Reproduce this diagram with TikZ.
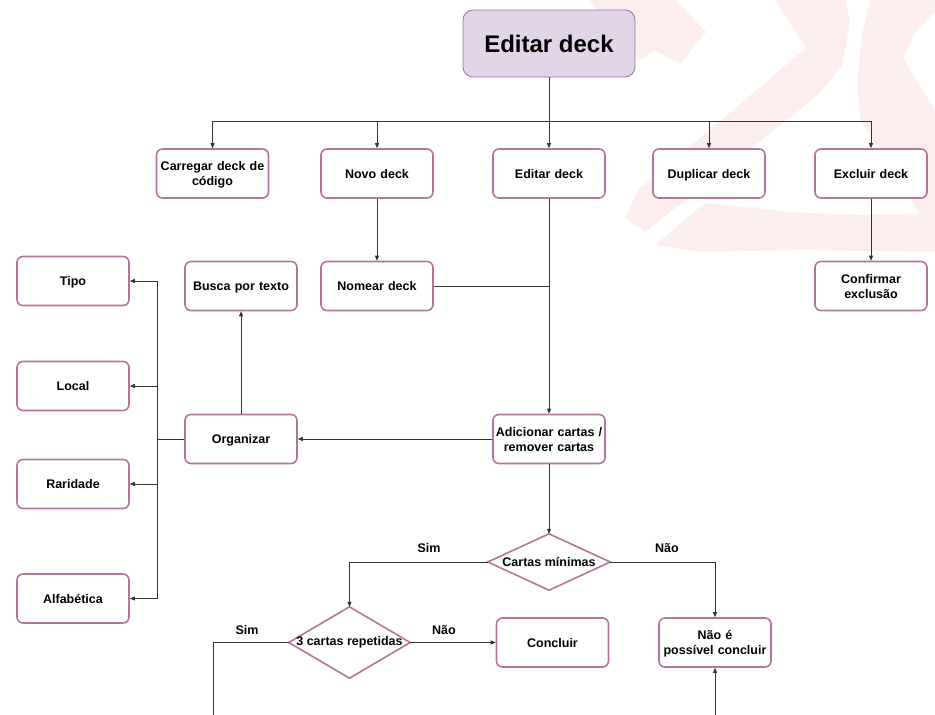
\documentclass[tikz,border=0pt]{standalone}
\usepackage{fontspec}
\setmainfont{Liberation Sans}
\usetikzlibrary{arrows.meta,calc}
\definecolor{boxline}{HTML}{B5739D}
\definecolor{titlefill}{HTML}{E1D5E7}
\definecolor{titleline}{HTML}{9673A6}
\definecolor{wmpink}{HTML}{FDEEEE}
\definecolor{wire}{HTML}{333333}
% strut balanced around the cap height, so box text sits in the middle
\newcommand\capstrut{\rule[-3pt]{0pt}{15pt}}
\begin{document}
\begin{tikzpicture}[x=1pt,y=-1pt,
  card/.style={draw=boxline, line width=1.6pt, rounded corners=6pt, fill=white,
    minimum width=112pt, minimum height=49pt, inner sep=2pt, align=center,
    text width=108pt, font=\fontsize{12.5}{15}\selectfont\bfseries,
    execute at begin node=\capstrut, execute at end node=\capstrut},
  titlebox/.style={draw=titleline, line width=0.8pt, rounded corners=10pt, fill=titlefill,
    minimum width=172pt, minimum height=67pt, inner sep=2pt,
    font=\fontsize{24}{28}\selectfont\bfseries},
  dia/.style={rectangle, inner sep=0pt, font=\fontsize{12.5}{14}\selectfont\bfseries},
  diaedge/.style={draw=boxline, line width=1.6pt, fill=white, line join=miter},
  lbl/.style={inner sep=1pt, font=\fontsize{12.5}{14}\selectfont\bfseries},
  plain/.style={draw=wire, line width=0.8pt},
  flow/.style={plain, -{Triangle[length=5pt,width=4pt]}}]

% page
\useasboundingbox (0,0) rectangle (935,715);
\fill[white] (0,0) rectangle (935,715);

% faint backdrop emblem
\begin{scope}[fill=wmpink]
  \fill (588,0) -- (676,0) -- (706,32) -- (680,64) -- (655,50) -- (640,60) -- cycle;
  \fill (775,0) -- (846,0) -- (850,22) -- (842,66) -- (818,95) -- (705,185) -- (645,232)
        -- (625,218) -- (638,190) -- (745,100) -- (806,48) -- cycle;
  \fill (870,0) -- (935,0) -- (935,12) -- (914,34) -- (903,58) -- (935,110) -- (935,235)
        -- (898,182) -- (860,118) -- (857,86) -- (862,35) -- cycle;
  \fill (655,245) -- (705,203) -- (790,212) -- (860,215) -- (935,213) -- (935,252)
        -- (800,250) -- (700,252) -- cycle;
\end{scope}

% nodes
\node[titlebox] (top) at (549,43.5) {Editar deck};
\node[card] (load) at (212.5,173.5) {Carregar deck de\\código};
\node[card] (new) at (377,173.5) {Novo deck};
\node[card] (edit) at (549,173.5) {Editar deck};
\node[card] (dup) at (709,173.5) {Duplicar deck};
\node[card] (del) at (871,173.5) {Excluir deck};
\node[card] (search) at (241,286) {Busca por texto};
\node[card] (name) at (377,286) {Nomear deck};
\node[card] (confirm) at (871,286) {Confirmar\\exclusão};
\node[card] (tipo) at (73,281) {Tipo};
\node[card] (local) at (73,386) {Local};
\node[card] (rar) at (73,484) {Raridade};
\node[card] (alfa) at (73,598.5) {Alfabética};
\node[card] (org) at (241,439) {Organizar};
\node[card] (add) at (549,439) {Adicionar cartas /\\remover cartas};
\node[card] (done) at (552.5,642.5) {Concluir};
\node[card] (fail) at (715,642.5) {Não é\\possível concluir};

% decision diamonds
\node[dia, minimum width=122pt, minimum height=56pt] (min) at (549,562) {};
\draw[diaedge] (min.north) -- (min.east) -- (min.south) -- (min.west) -- cycle;
\node[dia] at (min) {Cartas mínimas};
\node[dia, minimum width=121pt, minimum height=71pt] (rep) at (349.5,642.5) {};
\draw[diaedge] (rep.north) -- (rep.east) -- (rep.south) -- (rep.west) -- cycle;
\node[dia] at (rep) {3 cartas repetidas};

% branch labels
\node[lbl] (sim1) at (429,548) {Sim};
\node[lbl] (nao1) at (667,548) {Não};
\node[lbl] (sim2) at (247,630) {Sim};
\node[lbl] (nao2) at (444,630) {Não};

% helper coordinates
\coordinate (bus) at (0,121);
\coordinate (split) at (157,0);
\coordinate (loopL) at (213,715);
\coordinate (loopR) at (715,715);

% top fan-out
\draw[flow] (top.south) -- (edit.north);
\draw[plain] (load.north |- bus) -- (del.north |- bus);
\draw[flow] (load.north |- bus) -- (load.north);
\draw[flow] (new.north |- bus) -- (new.north);
\draw[flow] (dup.north |- bus) -- (dup.north);
\draw[flow] (del.north |- bus) -- (del.north);

% second row
\draw[flow] (new) -- (name);
\draw[flow] (del) -- (confirm);
\draw[flow] (edit) -- (add);
\draw[plain] (name.east) -- (name.east -| edit.south);

% organise branch
\draw[flow] (add) -- (org);
\draw[flow] (org) -- (search);
\draw[plain] (org.west) -- (org.west -| split);
\draw[plain] (tipo.east -| split) -- (alfa.east -| split);
\draw[flow] (tipo.east -| split) -- (tipo.east);
\draw[flow] (local.east -| split) -- (local.east);
\draw[flow] (rar.east -| split) -- (rar.east);
\draw[flow] (alfa.east -| split) -- (alfa.east);

% decisions
\draw[flow] (add.south) -- (min.north);
\draw[flow] (min.west) -| (rep.north);
\draw[flow] (min.east) -| (fail.north);
\draw[flow] (rep.east) -- (done.west);
\draw[plain] (rep.west) -| (loopL);
\draw[flow] (loopR) -- (fail.south);
\end{tikzpicture}
\end{document}
